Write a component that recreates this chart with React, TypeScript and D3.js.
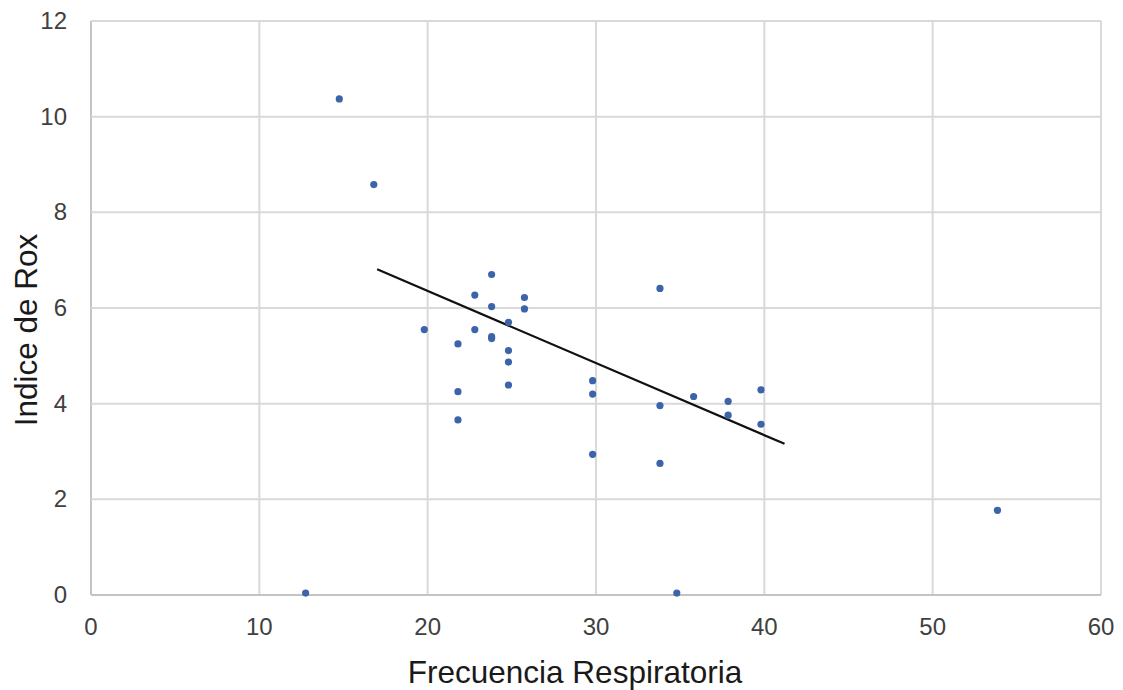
import React, { useEffect, useRef } from 'react'
import * as d3 from 'd3'

// Frecuencia respiratoria (x) vs Indice de Rox (y)
const frecuencia = [14.75, 16.8, 12.75, 19.8, 21.8, 21.8, 21.8, 22.8, 22.8, 23.8, 23.8, 23.8, 23.8, 24.8, 24.8, 24.8, 24.8, 25.75, 25.75, 29.8, 29.8, 29.8, 33.8, 33.8, 33.8, 34.8, 35.8, 37.85, 37.85, 39.8, 39.8, 53.85]
const rox = [10.37, 8.58, 0.04, 5.55, 5.25, 4.25, 3.66, 6.27, 5.55, 6.70, 6.03, 5.40, 5.36, 5.70, 5.11, 4.87, 4.39, 6.22, 5.98, 4.48, 4.20, 2.94, 6.41, 3.96, 2.75, 0.04, 4.15, 4.05, 3.76, 4.29, 3.57, 1.77]

// trend line endpoints
const trendX = [17, 41.2]
const trendY = [6.81, 3.16]

const xTicks = [0, 10, 20, 30, 40, 50, 60]
const yTicks = [0, 2, 4, 6, 8, 10, 12]

const W = 1123
const H = 690
const margin = { top: 21, right: 22, bottom: 95, left: 91 }
const FONT = 'Liberation Sans, Arial, sans-serif'

const Chart: React.FC = () => {
    const svgRef = useRef<SVGSVGElement | null>(null)

    useEffect(() => {
        const svg = d3.select(svgRef.current)
        svg.selectAll('*').remove()

        const x = d3.scaleLinear().domain([0, 60]).range([margin.left, W - margin.right])
        const y = d3.scaleLinear().domain([0, 12]).range([H - margin.bottom, margin.top])

        // grid
        const grid = svg.append('g')
        grid.selectAll('line.v')
            .data(xTicks)
            .join('line')
            .attr('class', 'v')
            .attr('x1', (d) => x(d))
            .attr('x2', (d) => x(d))
            .attr('y1', y(0))
            .attr('y2', y(12))
            .attr('stroke', (d) => (d === 0 ? '#c4c4c4' : '#d9d9d9'))
            .attr('stroke-width', 2)
        grid.selectAll('line.h')
            .data(yTicks)
            .join('line')
            .attr('class', 'h')
            .attr('x1', x(0))
            .attr('x2', x(60))
            .attr('y1', (d) => y(d))
            .attr('y2', (d) => y(d))
            .attr('stroke', (d) => (d === 0 ? '#c4c4c4' : '#d9d9d9'))
            .attr('stroke-width', 2)

        // tick labels
        svg.append('g')
            .selectAll('text')
            .data(xTicks)
            .join('text')
            .attr('x', (d) => x(d))
            .attr('y', y(0) + 40)
            .attr('text-anchor', 'middle')
            .attr('font-family', FONT)
            .attr('font-size', 24)
            .attr('fill', '#404040')
            .text((d) => d)
        svg.append('g')
            .selectAll('text')
            .data(yTicks)
            .join('text')
            .attr('x', 67)
            .attr('y', (d) => y(d) + 8)
            .attr('text-anchor', 'end')
            .attr('font-family', FONT)
            .attr('font-size', 24)
            .attr('fill', '#404040')
            .text((d) => d)

        // axis titles
        svg.append('text')
            .attr('x', 575)
            .attr('y', 683)
            .attr('text-anchor', 'middle')
            .attr('font-family', FONT)
            .attr('font-size', 31.5)
            .attr('fill', '#1a1a1a')
            .text('Frecuencia Respiratoria')
        svg.append('text')
            .attr('transform', `translate(37, ${330}) rotate(-90)`)
            .attr('text-anchor', 'middle')
            .attr('font-family', FONT)
            .attr('font-size', 31.5)
            .attr('fill', '#1a1a1a')
            .text('Indice de Rox')

        // trend line
        const line = d3
            .line<number>()
            .x((d, i) => x(trendX[i]))
            .y((d) => y(d))
        svg.append('path')
            .datum(trendY)
            .attr('d', line)
            .attr('fill', 'none')
            .attr('stroke', '#111')
            .attr('stroke-width', 2.2)

        // points
        svg.append('g')
            .selectAll('circle')
            .data(rox)
            .join('circle')
            .attr('cx', (d, i) => x(frecuencia[i]))
            .attr('cy', (d) => y(d))
            .attr('r', 3.6)
            .attr('fill', '#3c64a8')
    }, [])

    return <svg ref={svgRef} width={W} height={H} style={{ position: 'absolute', left: 0, top: 0, background: '#fff' }} />
}

export default function App() {
    return <Chart />
}
